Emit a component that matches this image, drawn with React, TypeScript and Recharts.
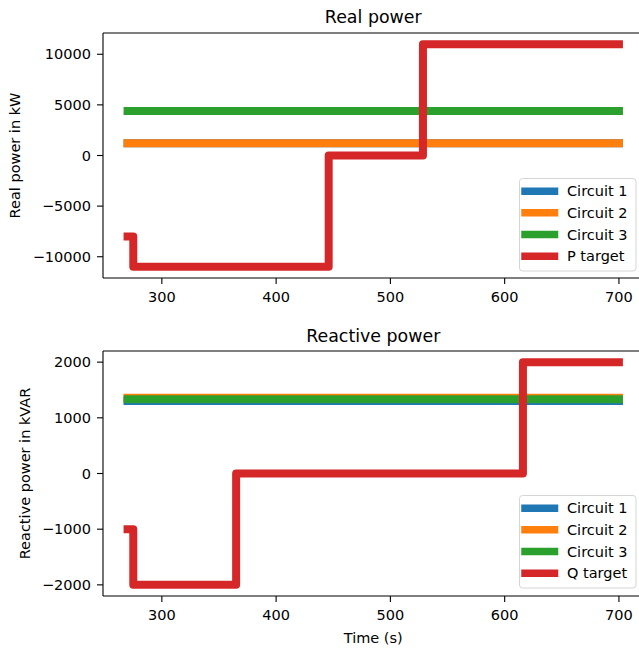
import React from 'react';
import { LineChart, Line, XAxis, YAxis, Legend, ReferenceLine } from 'recharts';

if (typeof document !== 'undefined') {
  document.body.style.margin = '0';
}

const FONT = 'DejaVu Sans';

// Time values (s)
const timeTicks = [300, 400, 500, 600, 700];
const xDomain: [number, number] = [248.5, 721.5];

// Real power (kW)
const realTicks = [-10000, -5000, 0, 5000, 10000];
const realDomain: [number, number] = [-12100, 12100];
const realCircuit1 = [
  { t: 270, v: 1200 },
  { t: 700, v: 1200 },
];
const realCircuit2 = [
  { t: 270, v: 1200 },
  { t: 700, v: 1200 },
];
const realCircuit3 = [
  { t: 270, v: 4400 },
  { t: 700, v: 4400 },
];
const realTarget = [
  { t: 270, v: -8000 },
  { t: 275, v: -8000 },
  { t: 275, v: -11000 },
  { t: 446, v: -11000 },
  { t: 446, v: 0 },
  { t: 528.5, v: 0 },
  { t: 528.5, v: 11000 },
  { t: 700, v: 11000 },
];

// Reactive power (kVAR)
const reactTicks = [-2000, -1000, 0, 1000, 2000];
const reactDomain: [number, number] = [-2200, 2200];
const reactCircuit1 = [
  { t: 270, v: 1300 },
  { t: 700, v: 1300 },
];
const reactCircuit2 = [
  { t: 270, v: 1360 },
  { t: 700, v: 1360 },
];
const reactCircuit3 = [
  { t: 270, v: 1335 },
  { t: 700, v: 1335 },
];
const reactTarget = [
  { t: 270, v: -1000 },
  { t: 275, v: -1000 },
  { t: 275, v: -2000 },
  { t: 365, v: -2000 },
  { t: 365, v: 0 },
  { t: 616, v: 0 },
  { t: 616, v: 2000 },
  { t: 700, v: 2000 },
];

const COLORS = ['#1f77b4', '#ff7f0e', '#2ca02c', '#d62728'];

const fmt = (v: number) => String(v).replace('-', '\u2212');

const tickStyle = { fontSize: 14.5, fill: '#000', fontFamily: FONT };

const LegendBox = (props: any) => {
  const payload = props.payload || [];
  return (
    <svg width={118} height={94} style={{ display: 'block' }}>
      <rect x={0.5} y={0.5} width={116.5} height={92.5} rx={3} ry={3} fill="#fff" fillOpacity={0.8} stroke="#d5d5d5" strokeWidth={1} />
      {payload.map((e: any, i: number) => {
        const cy = 13.2 + i * 21.67;
        return (
          <g key={i}>
            <line x1={6} x2={35.5} y1={cy} y2={cy} stroke={e.color} strokeWidth={7.5} strokeLinecap="square" />
            <text x={48} y={cy + 5.2} fontSize={14.5} fontFamily={FONT} fill="#000">
              {e.value}
            </text>
          </g>
        );
      })}
    </svg>
  );
};

const TextLabel = (props: any) => (
  <text
    x={props.px}
    y={props.py}
    textAnchor="middle"
    fontSize={14.5}
    fontFamily={FONT}
    fill="#000"
    transform={props.rotate ? `rotate(-90 ${props.px} ${props.py})` : undefined}
    dominantBaseline={props.rotate ? 'central' : undefined}
  >
    {props.text}
  </text>
);

type PanelProps = {
  height: number;
  top: number;
  bottom: number;
  yDomain: [number, number];
  yTicks: number[];
  series: { t: number; v: number }[][];
  names: string[];
  yLabel: string;
  yLabelX: number;
  xLabel?: string;
  xLabelY?: number;
  legendTop: number;
};

const W = 650;
const PLOT_LEFT = 103;
const PLOT_RIGHT = 643.5;

const Panel = (p: PanelProps) => {
  const xAxisH = p.bottom - 2;
  return (
    <LineChart
      width={W}
      height={p.height}
      margin={{ top: p.top, left: 0, right: W - PLOT_RIGHT, bottom: 2 }}
    >
      <XAxis
        dataKey="t"
        type="number"
        domain={xDomain}
        ticks={timeTicks}
        allowDataOverflow
        height={xAxisH}
        tick={tickStyle}
        tickSize={6}
        tickMargin={8}
        tickLine={{ stroke: '#000', strokeWidth: 1.1 }}
        axisLine={{ stroke: '#000', strokeWidth: 1.1 }}
        interval={0}
        label={p.xLabel ? <TextLabel text={p.xLabel} px={(PLOT_LEFT + PLOT_RIGHT) / 2} py={p.xLabelY} /> : undefined}
      />
      <YAxis
        type="number"
        domain={p.yDomain}
        ticks={p.yTicks}
        width={PLOT_LEFT}
        tick={tickStyle}
        tickFormatter={fmt}
        tickSize={6}
        tickMargin={6}
        tickLine={{ stroke: '#000', strokeWidth: 1.1 }}
        axisLine={{ stroke: '#000', strokeWidth: 1.1 }}
        interval={0}
        label={<TextLabel text={p.yLabel} px={p.yLabelX} py={p.top + (p.height - p.top - p.bottom) / 2} rotate />}
      />
      <ReferenceLine y={p.yDomain[1]} stroke="#000" strokeWidth={1.1} />
      <ReferenceLine x={xDomain[1]} stroke="#000" strokeWidth={1.1} />
      {p.series.map((d, i) => (
        <Line
          key={i}
          data={d}
          dataKey="v"
          name={p.names[i]}
          type="linear"
          stroke={COLORS[i]}
          strokeWidth={8}
          strokeLinecap="square"
          strokeLinejoin="round"
          dot={false}
          activeDot={false}
          isAnimationActive={false}
        />
      ))}
      <Legend
        layout="vertical"
        align="center"
        verticalAlign="middle"
        wrapperStyle={{ position: 'absolute', left: 519, top: p.legendTop, width: 118, height: 94 }}
        content={<LegendBox />}
      />
    </LineChart>
  );
};

const Title = ({ text, y }: { text: string; y: number }) => (
  <text x={(PLOT_LEFT + PLOT_RIGHT) / 2} y={y} textAnchor="middle" fontSize={17.4} fontFamily={FONT} fill="#000">
    {text}
  </text>
);

export default function App() {
  return (
    <div style={{ position: 'relative', width: 639, height: 652, overflow: 'hidden', background: '#fff' }}>
      <div style={{ position: 'absolute', left: 0, top: 0 }}>
        <Panel
          height={320}
          top={33}
          bottom={320 - 278}
          yDomain={realDomain}
          yTicks={realTicks}
          series={[realCircuit1, realCircuit2, realCircuit3, realTarget]}
          names={['Circuit 1', 'Circuit 2', 'Circuit 3', 'P target']}
          yLabel="Real power in kW"
          yLabelX={14.5}
          legendTop={177.5}
        />
      </div>
      <div style={{ position: 'absolute', left: 0, top: 320 }}>
        <Panel
          height={332}
          top={31}
          bottom={332 - 276}
          yDomain={reactDomain}
          yTicks={reactTicks}
          series={[reactCircuit1, reactCircuit2, reactCircuit3, reactTarget]}
          names={['Circuit 1', 'Circuit 2', 'Circuit 3', 'Q target']}
          yLabel="Reactive power in kVAR"
          yLabelX={25}
          xLabel="Time (s)"
          xLabelY={323}
          legendTop={175}
        />
      </div>
      <svg width={639} height={652} style={{ position: 'absolute', left: 0, top: 0, pointerEvents: 'none' }}>
        <Title text="Real power" y={22.7} />
        <Title text="Reactive power" y={341.5} />
      </svg>
    </div>
  );
}
